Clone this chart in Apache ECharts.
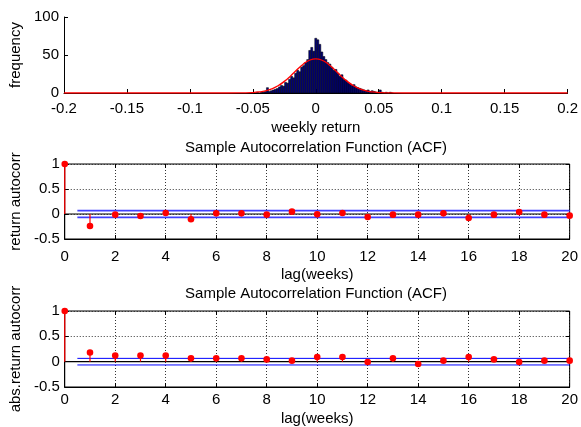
<!DOCTYPE html>
<html><head><meta charset="utf-8">
<script src="https://cdn.jsdelivr.net/npm/echarts@6/dist/echarts.min.js"></script>
<style>html,body{margin:0;padding:0;background:#fff}#c{width:581px;height:427px}</style>
</head><body><div id="c"></div>
<script>
// ---- data ----
const histBinWidth = 0.0016;
const histCenters = [-0.048,-0.0464,-0.0448,-0.0432,-0.0416,-0.04,-0.0384,-0.0368,-0.0352,-0.0336,
  -0.032,-0.0304,-0.0288,-0.0272,-0.0256,-0.024,-0.0224,-0.0208,-0.0192,-0.0176,
  -0.016,-0.0144,-0.0128,-0.0112,-0.0096,-0.008,-0.0064,-0.0048,-0.0032,-0.0016,
  0,0.0016,0.0032,0.0048,0.0064,0.008,0.0096,0.0112,0.0128,0.0144,
  0.016,0.0176,0.0192,0.0208,0.0224,0.024,0.0256,0.0272,0.0288,0.0304,
  0.032,0.0336,0.0352,0.0368,0.0384,0.04,0.0416,0.0432,0.0448,0.0464,
  0.048,0.0496,0.0512,0.0528,0.0544,0.056,0.0576,0.0592,0.0608];
const histCounts = [0,1,0,1,1,2,7,2,3,4,
  5,6,8,10,9,14,13,18,22,20,
  26,30,28,34,36,40,44,56,60,55,
  72,70,64,54,48,44,40,38,34,30,
  31,26,22,24,18,17,14,12,10,11,
  8,7,6,5,4,3,4,2,3,2,
  1,1,4,1,0,1,0,1,0];
const normalX = [-0.2,-0.08,-0.06,-0.05,-0.045,-0.04,-0.035,-0.03,-0.025,-0.02,-0.015,-0.01,-0.005,0,
  0.005,0.01,0.015,0.02,0.025,0.03,0.035,0.04,0.045,0.05,0.06,0.08,0.2];
const normalY = [0,0,0.1,0.6,1.35,2.8,5.4,9.5,15.3,22.5,30.5,37.9,43.1,45,
  43.1,37.9,30.5,22.5,15.3,9.5,5.4,2.8,1.35,0.6,0.1,0,0];
const lags = [0,1,2,3,4,5,6,7,8,9,10,11,12,13,14,15,16,17,18,19,20];
const acfReturn = [1,-0.24,-0.013,-0.04,0.02,-0.106,0.013,0.013,-0.013,0.047,-0.007,
  0.02,-0.06,-0.013,-0.013,0.013,-0.08,-0.013,0.04,-0.013,-0.033];
const acfAbsReturn = [1,0.18,0.12,0.12,0.12,0.065,0.065,0.065,0.045,0.02,0.093,
  0.093,-0.006,0.065,-0.045,0.02,0.093,0.045,-0.006,0.02,0.02];
const boundStartLag = 0.5, boundEndLag = 20;
const boundReturn = 0.068;
const boundAbs = 0.065;

// ---- chart ----
const FONT = 'Liberation Sans';
const FS = 15;
const txt = {color:'#000', fontFamily:FONT, fontSize:FS};
const chart = echarts.init(document.getElementById('c'), null, {renderer:'canvas'});

const grids = [
  {left:64, right:11, top:17, height:76, show:false},
  {left:64, right:11, top:164, height:75, show:true, borderColor:'#000', borderWidth:1},
  {left:64, right:11, top:311, height:76, show:true, borderColor:'#000', borderWidth:1}
];
const axLine = {show:true, onZero:false, lineStyle:{color:'#000', width:1}};
const tick = {show:true, inside:true, length:4, lineStyle:{color:'#000'}};
const dotted = {show:true, lineStyle:{color:'#000', type:[1,2], width:0.8}};

function lagAxis(g, margin, gap){
  return {gridIndex:g, type:'value', min:0, max:20, interval:2, axisLine:axLine, axisTick:tick,
    axisLabel:Object.assign({margin:margin}, txt), splitLine:dotted,
    name:'lag(weeks)', nameLocation:'middle', nameGap:gap, nameTextStyle:txt};
}
function topAxis(g){
  return {gridIndex:g, type:'value', position:'top', min:0, max:20, interval:2,
    axisLine:{show:false, onZero:false}, axisTick:tick, axisLabel:{show:false}, splitLine:{show:false}};
}
function acfYAxis(g, name){
  return {gridIndex:g, type:'value', min:-0.5, max:1, interval:0.5, axisLine:axLine, axisTick:tick,
    axisLabel:Object.assign({margin:5}, txt), splitLine:dotted,
    name:name, nameLocation:'middle', nameGap:36, nameTextStyle:txt};
}
function rightAxis(g){
  return {gridIndex:g, type:'value', position:'right', min:-0.5, max:1, interval:0.5,
    axisLine:{show:false, onZero:false}, axisTick:tick, axisLabel:{show:false}, splitLine:{show:false}};
}

function stemSeries(xi, yi, vals){
  return {type:'custom', xAxisIndex:xi, yAxisIndex:yi, z:5,
    data: lags.map((l,i)=>[l, vals[i]]),
    renderItem:function(params, api){
      const p0 = api.coord([api.value(0), 0]);
      const p1 = api.coord([api.value(0), api.value(1)]);
      return {type:'group', children:[
        {type:'line', shape:{x1:p0[0], y1:p0[1], x2:p1[0], y2:p1[1]}, style:{stroke:'#ff0000', lineWidth:1.2}},
        {type:'circle', shape:{cx:p1[0], cy:p1[1], r:3.3}, style:{fill:'#ff0000'}}
      ]};
    }};
}
function hLine(xi, yi, y, color, width, z){
  return {type:'line', xAxisIndex:xi, yAxisIndex:yi, z:z, symbol:'none', silent:true,
    data:[[y===0?0:boundStartLag, y],[boundEndLag, y]], lineStyle:{color:color, width:width}};
}

const option = {
  animation:false,
  backgroundColor:'#fff',
  grid: grids,
  xAxis:[
    {gridIndex:0, type:'value', min:-0.2, max:0.2, interval:0.05, axisLine:axLine, axisTick:tick,
     axisLabel:Object.assign({margin:8}, txt), splitLine:{show:false},
     name:'weekly return', nameLocation:'middle', nameGap:27, nameTextStyle:txt},
    lagAxis(1, 10, 28),
    lagAxis(2, 5, 24),
    topAxis(1),
    topAxis(2)
  ],
  yAxis:[
    {gridIndex:0, type:'value', min:0, max:100, interval:50, axisLine:axLine, axisTick:tick,
     axisLabel:Object.assign({margin:5}, txt), splitLine:{show:false},
     name:'frequency', nameLocation:'middle', nameGap:36, nameTextStyle:txt},
    acfYAxis(1, 'return autocorr'),
    acfYAxis(2, 'abs.return autocorr'),
    rightAxis(1),
    rightAxis(2)
  ],
  graphic:[
    {type:'text', x:316, y:148, style:{text:'Sample Autocorrelation Function (ACF)', align:'center', verticalAlign:'middle', fill:'#000', font:FS+'px "'+FONT+'"'}},
    {type:'text', x:316, y:294, style:{text:'Sample Autocorrelation Function (ACF)', align:'center', verticalAlign:'middle', fill:'#000', font:FS+'px "'+FONT+'"'}}
  ],
  series:[
    {type:'custom', xAxisIndex:0, yAxisIndex:0, z:2,
     data: histCenters.map((c,i)=>[c, histCounts[i]]),
     renderItem:function(params, api){
       const c = api.value(0), v = api.value(1);
       const p0 = api.coord([c - histBinWidth/2, 0]);
       const p1 = api.coord([c + histBinWidth/2, v]);
       return {type:'rect', shape:{x:p0[0], y:p1[1], width:p1[0]-p0[0], height:p0[1]-p1[1]},
         style:{fill:'#00007a', stroke:'#000', lineWidth:0.5}};
     }},
    {type:'line', xAxisIndex:0, yAxisIndex:0, z:3, symbol:'none', smooth:true, silent:true,
     data: normalX.map((x,i)=>[x, normalY[i]]), lineStyle:{color:'#ff0000', width:1.3}},
    hLine(1, 1, 0, '#000', 1.2, 3),
    hLine(1, 1, boundReturn, '#4040ff', 1.6, 4),
    hLine(1, 1, -boundReturn, '#4040ff', 1.6, 4),
    stemSeries(1, 1, acfReturn),
    hLine(2, 2, 0, '#000', 1.4, 3),
    hLine(2, 2, boundAbs, '#0000ff', 1, 4),
    hLine(2, 2, -boundAbs, '#0000ff', 1, 4),
    stemSeries(2, 2, acfAbsReturn)
  ]
};
chart.setOption(option);
</script></body></html>
